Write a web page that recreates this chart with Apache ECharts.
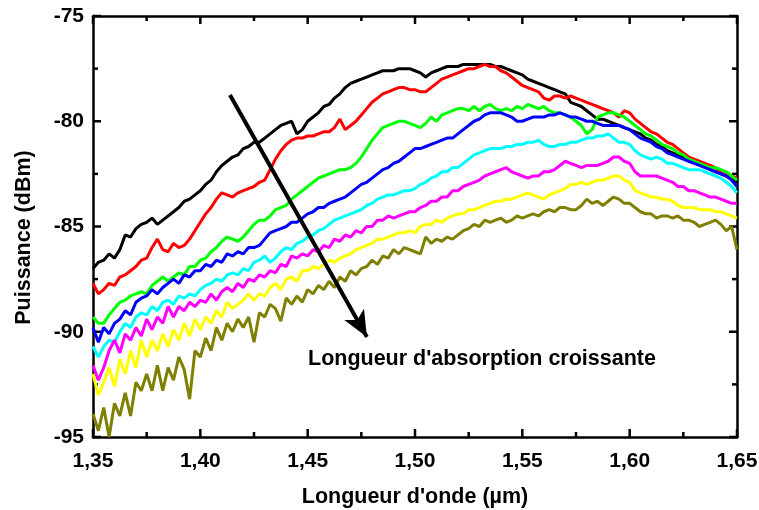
<!DOCTYPE html>
<html>
<head>
<meta charset="utf-8">
<script src="https://cdn.jsdelivr.net/npm/echarts@6/dist/echarts.min.js"></script>
<style>
html,body{margin:0;padding:0;background:#fff;}
#c{width:759px;height:510px;}
</style>
</head>
<body>
<div id="c"></div>
<script>
// Wavelength grid (µm): 1.35 to 1.65, step 0.0025 (121 samples)
const wavelength = [];
for (let i = 0; i <= 120; i++) wavelength.push(+(1.35 + i * 0.0025).toFixed(4));

const X_MIN = 1.35, X_MAX = 1.65, Y_MIN = -95, Y_MAX = -75;
const xTicks = ['1,35','1,40','1,45','1,50','1,55','1,60','1,65'];
const yTicks = ['-95','-90','-85','-80','-75'];
const xMajor = [1.35, 1.40, 1.45, 1.50, 1.55, 1.60, 1.65];
const xMinor = [1.375, 1.425, 1.475, 1.525, 1.575, 1.625];
const yMajor = [-95, -90, -85, -80, -75];
const yMinor = [-92.5, -87.5, -82.5, -77.5];

const black = [-87.0,-86.7,-86.6,-86.3,-86.5,-86.1,-85.4,-85.5,-85.1,-84.9,
-84.8,-84.6,-84.9,-84.7,-84.5,-84.3,-84.1,-83.8,-83.7,-83.5,
-83.3,-83.0,-82.8,-82.4,-82.1,-81.9,-81.7,-81.6,-81.3,-81.2,
-81.0,-81.0,-80.8,-80.6,-80.4,-80.2,-80.1,-80.0,-80.6,-80.4,
-80.0,-79.8,-79.6,-79.3,-79.2,-78.9,-78.7,-78.4,-78.2,-78.1,
-78.0,-77.9,-77.8,-77.7,-77.6,-77.6,-77.6,-77.5,-77.5,-77.5,
-77.6,-77.7,-77.9,-77.7,-77.6,-77.5,-77.4,-77.4,-77.4,-77.3,
-77.3,-77.3,-77.3,-77.3,-77.3,-77.4,-77.4,-77.5,-77.6,-77.7,
-77.8,-78.0,-78.1,-78.2,-78.3,-78.4,-78.5,-78.6,-78.7,-79.1,
-79.2,-79.3,-79.5,-79.7,-79.9,-79.9,-80.0,-80.1,-80.2,-80.3,
-80.4,-80.5,-80.6,-80.8,-80.9,-81.1,-81.2,-81.4,-81.5,-81.6,
-81.7,-81.8,-81.9,-82.0,-82.1,-82.3,-82.4,-82.5,-82.6,-82.7,-82.9];

const red = [-87.7,-88.2,-88.0,-87.7,-87.8,-87.4,-87.3,-87.1,-86.9,-86.6,
-86.5,-86.0,-85.6,-86.1,-86.2,-85.8,-86.0,-85.9,-85.6,-85.2,
-84.8,-84.4,-84.1,-83.7,-83.4,-83.5,-83.6,-83.4,-83.3,-83.2,
-83.1,-82.9,-82.8,-82.3,-81.8,-81.4,-81.1,-80.9,-80.8,-80.8,
-80.7,-80.7,-80.6,-80.5,-80.5,-80.3,-79.9,-80.4,-80.2,-80.0,
-79.7,-79.4,-79.1,-78.9,-78.7,-78.6,-78.5,-78.4,-78.4,-78.5,
-78.5,-78.6,-78.6,-78.4,-78.2,-78.0,-77.9,-77.8,-77.7,-77.6,
-77.5,-77.5,-77.4,-77.3,-77.4,-77.4,-77.6,-77.7,-77.9,-78.1,
-78.3,-78.4,-78.5,-78.6,-78.9,-79.0,-78.8,-78.8,-78.9,-78.8,
-78.9,-79.0,-79.1,-79.2,-79.3,-79.4,-79.5,-79.6,-79.8,-79.5,
-79.6,-79.9,-80.1,-80.3,-80.5,-80.6,-80.8,-81.0,-81.1,-81.3,
-81.5,-81.7,-81.8,-81.9,-82.0,-82.1,-82.2,-82.4,-82.5,-82.6,-82.7];

const green = [-89.3,-89.6,-89.6,-89.2,-88.9,-88.6,-88.5,-88.3,-88.2,-88.1,
-88.2,-87.8,-87.6,-87.4,-87.6,-87.4,-87.2,-87.3,-86.9,-86.9,
-86.6,-86.5,-86.2,-86.0,-85.7,-85.5,-85.6,-85.7,-85.5,-85.2,
-84.9,-84.7,-84.7,-84.5,-84.2,-84.1,-84.0,-83.7,-83.5,-83.3,
-83.1,-82.9,-82.7,-82.6,-82.5,-82.4,-82.3,-82.3,-82.2,-82.0,
-81.7,-81.3,-80.9,-80.6,-80.3,-80.2,-80.1,-80.0,-80.0,-80.1,
-80.2,-80.3,-80.1,-79.8,-80.0,-79.7,-79.6,-79.5,-79.4,-79.4,
-79.5,-79.3,-79.5,-79.3,-79.2,-79.4,-79.5,-79.4,-79.5,-79.3,
-79.4,-79.2,-79.3,-79.4,-79.3,-79.5,-79.6,-79.6,-79.7,-79.8,
-80.0,-80.2,-80.6,-80.4,-79.8,-79.7,-79.6,-79.6,-79.7,-79.8,
-80.0,-80.2,-80.4,-80.6,-80.7,-80.9,-81.1,-81.2,-81.3,-81.5,
-81.6,-81.8,-81.9,-82.0,-82.1,-82.2,-82.2,-82.3,-82.4,-82.6,-82.8];

const blue = [-89.8,-90.5,-89.8,-90.1,-89.6,-89.4,-89.0,-89.2,-88.6,-88.4,
-88.3,-88.0,-88.2,-87.9,-87.7,-87.5,-87.7,-87.3,-87.4,-87.1,
-87.1,-86.8,-86.9,-86.6,-86.7,-86.3,-86.4,-86.2,-86.3,-86.0,
-86.0,-85.9,-85.6,-85.3,-85.2,-85.1,-85.0,-84.8,-84.8,-84.6,
-84.4,-84.3,-84.1,-84.1,-83.9,-83.8,-83.7,-83.6,-83.4,-83.2,
-83.0,-82.9,-82.7,-82.5,-82.3,-82.2,-82.0,-81.9,-81.7,-81.5,
-81.3,-81.3,-81.2,-81.1,-81.0,-80.9,-80.8,-80.8,-80.6,-80.4,
-80.2,-80.0,-79.9,-79.7,-79.6,-79.6,-79.6,-79.7,-79.8,-80.0,
-80.0,-79.9,-79.8,-79.8,-79.8,-79.7,-79.7,-79.6,-79.7,-79.8,
-79.8,-79.9,-80.0,-80.0,-80.1,-80.2,-80.2,-80.2,-80.2,-80.3,
-80.4,-80.6,-80.8,-80.9,-81.0,-81.2,-81.3,-81.5,-81.6,-81.7,
-81.8,-81.9,-82.0,-82.1,-82.2,-82.3,-82.4,-82.5,-82.6,-82.8,-83.1];

const cyan = [-90.7,-91.2,-90.7,-90.4,-90.5,-90.0,-89.6,-89.8,-89.3,-89.1,
-89.2,-88.8,-89.0,-88.6,-88.5,-88.7,-88.3,-88.4,-88.2,-88.3,
-88.0,-87.8,-87.7,-87.5,-87.6,-87.3,-87.2,-87.3,-87.0,-87.1,
-86.7,-86.6,-86.4,-86.7,-86.5,-86.2,-86.0,-86.1,-85.8,-85.7,
-85.5,-85.4,-85.2,-85.1,-84.9,-84.7,-84.6,-84.5,-84.4,-84.3,
-84.2,-84.0,-83.9,-83.7,-83.6,-83.5,-83.5,-83.4,-83.3,-83.3,
-83.2,-83.0,-82.9,-82.7,-82.6,-82.4,-82.4,-82.2,-82.2,-82.0,
-81.8,-81.6,-81.5,-81.4,-81.3,-81.3,-81.3,-81.2,-81.2,-81.1,
-81.1,-81.0,-81.0,-80.9,-81.1,-81.2,-81.2,-81.1,-81.1,-81.0,
-81.0,-80.9,-80.8,-80.8,-80.7,-80.7,-80.6,-80.8,-81.0,-81.0,
-81.1,-81.4,-81.6,-81.7,-81.8,-81.7,-81.8,-82.0,-82.0,-82.1,
-82.2,-82.3,-82.3,-82.3,-82.4,-82.5,-82.6,-82.7,-82.9,-83.1,-83.4];

const magenta = [-91.6,-92.3,-91.7,-90.9,-90.4,-91.0,-90.1,-90.4,-89.8,-90.2,
-89.4,-89.9,-89.3,-89.6,-88.8,-89.3,-88.8,-89.0,-88.6,-88.8,
-88.5,-88.6,-88.2,-88.5,-88.1,-87.9,-88.1,-87.7,-87.9,-87.5,
-87.6,-87.3,-87.4,-87.1,-87.2,-86.8,-86.9,-86.4,-86.5,-86.3,
-86.4,-86.1,-86.2,-85.9,-86.0,-85.6,-85.7,-85.4,-85.5,-85.2,
-85.3,-85.0,-85.0,-84.7,-84.7,-84.5,-84.6,-84.5,-84.4,-84.3,
-84.3,-84.1,-84.0,-83.8,-83.8,-83.6,-83.6,-83.3,-83.3,-83.1,
-83.0,-82.9,-82.8,-82.6,-82.5,-82.4,-82.3,-82.2,-82.4,-82.5,
-82.6,-82.7,-82.6,-82.6,-82.4,-82.4,-82.3,-82.1,-81.9,-82.0,
-82.1,-82.2,-82.1,-82.1,-82.1,-82.0,-81.9,-81.7,-81.7,-81.9,
-82.0,-82.4,-82.6,-82.6,-82.6,-82.6,-82.7,-82.8,-82.9,-83.1,
-83.1,-83.3,-83.3,-83.4,-83.5,-83.6,-83.6,-83.7,-83.8,-83.9,-83.9];

const yellow = [-92.0,-93.0,-92.4,-91.7,-92.6,-91.3,-92.0,-90.9,-91.7,-90.4,
-91.2,-90.4,-90.9,-90.1,-90.7,-89.9,-90.4,-89.6,-90.2,-89.4,
-89.9,-89.3,-89.6,-89.0,-89.3,-88.6,-88.9,-88.7,-88.5,-88.2,
-88.5,-88.2,-88.3,-87.9,-87.7,-88.0,-87.5,-87.4,-87.6,-87.1,
-87.1,-86.9,-87.0,-86.8,-86.6,-86.7,-86.5,-86.4,-86.3,-86.1,
-86.0,-85.9,-85.8,-85.6,-85.6,-85.5,-85.4,-85.3,-85.3,-85.2,
-85.3,-85.0,-84.9,-84.9,-84.7,-84.8,-84.6,-84.5,-84.4,-84.4,
-84.2,-84.2,-84.1,-84.0,-83.9,-83.8,-83.8,-83.7,-83.7,-83.6,
-83.5,-83.4,-83.5,-83.6,-83.7,-83.5,-83.4,-83.3,-83.2,-83.0,
-83.0,-82.9,-83.0,-82.9,-82.8,-82.8,-82.7,-82.6,-82.6,-82.8,
-82.9,-83.3,-83.4,-83.5,-83.6,-83.6,-83.7,-83.7,-83.8,-84.0,
-84.1,-84.1,-84.1,-84.2,-84.2,-84.2,-84.3,-84.3,-84.4,-84.5,-84.6];

const olive = [-93.9,-94.7,-93.6,-95.0,-93.4,-94.0,-92.9,-94.0,-92.4,-92.8,
-92.0,-92.8,-91.6,-92.8,-91.7,-92.3,-91.2,-91.8,-93.2,-90.9,
-91.2,-90.3,-90.9,-89.8,-90.4,-89.6,-90.0,-89.4,-89.8,-89.3,
-90.5,-89.1,-89.3,-88.7,-88.9,-89.5,-88.4,-88.7,-88.3,-88.6,
-88.0,-88.2,-87.8,-88.0,-87.6,-87.9,-87.4,-87.6,-87.1,-87.3,
-87.0,-86.9,-86.6,-86.8,-86.4,-86.5,-86.1,-86.3,-86.0,-86.1,
-86.2,-86.3,-85.5,-85.8,-85.6,-85.7,-85.5,-85.6,-85.4,-85.2,
-85.1,-84.9,-85.0,-84.7,-84.8,-84.7,-84.6,-84.8,-84.7,-84.5,
-84.6,-84.5,-84.4,-84.5,-84.3,-84.2,-84.3,-84.1,-84.1,-84.2,
-84.2,-84.0,-83.7,-83.9,-83.8,-84.0,-83.8,-83.6,-83.7,-83.9,
-83.9,-84.1,-84.3,-84.4,-84.4,-84.6,-84.5,-84.5,-84.6,-84.5,
-84.7,-84.7,-84.8,-85.0,-84.9,-84.8,-84.7,-84.9,-85.2,-85.0,-86.1];

const seriesList = [
  {name:'s1', color:'#000000', data:black},
  {name:'s2', color:'#ff0000', data:red},
  {name:'s3', color:'#00ff00', data:green},
  {name:'s4', color:'#0000ff', data:blue},
  {name:'s5', color:'#00ffff', data:cyan},
  {name:'s6', color:'#ff00ff', data:magenta},
  {name:'s7', color:'#ffff00', data:yellow},
  {name:'s8', color:'#808000', data:olive}
];

const arrowFrom = [1.4138, -78.75];
const arrowTo = [1.4776, -90.25];
const annotation = "Longueur d'absorption croissante";

const FONT = '"Liberation Sans", Arial, sans-serif';
const MAJOR_LEN = 8, MINOR_LEN = 5;
const chart = echarts.init(document.getElementById('c'), null, {renderer:'canvas'});

function mkAxisLine(){ return {show:true, onZero:false, lineStyle:{color:'#000', width:2.5}}; }

const series = seriesList.map(s => ({
  name: s.name,
  type: 'line',
  data: wavelength.map((x, i) => [x, s.data[i]]),
  showSymbol: false,
  symbol: 'none',
  smooth: false,
  lineStyle: {color: s.color, width: 3},
  itemStyle: {color: s.color},
  z: 3,
  animation: false
}));

series[0].markLine = {
  silent: true,
  symbol: ['none', 'arrow'],
  symbolSize: [17, 26],
  label: {show:false},
  lineStyle: {color:'#000', width:4, type:'solid'},
  data: [[{coord: arrowFrom}, {coord: arrowTo}]],
  animation: false
};

// Inward tick marks on all four sides, positioned through the axes' scales.
const tickData = [];
xMajor.forEach(v => tickData.push([v, Y_MIN, 0, MAJOR_LEN]));
xMinor.forEach(v => tickData.push([v, Y_MIN, 0, MINOR_LEN]));
yMajor.forEach(v => tickData.push([X_MIN, v, 1, MAJOR_LEN]));
yMinor.forEach(v => tickData.push([X_MIN, v, 1, MINOR_LEN]));

series.push({
  type: 'custom',
  name: 'ticks',
  silent: true,
  clip: false,
  z: 2,
  animation: false,
  data: tickData,
  renderItem: function (params, api) {
    const kind = api.value(2), len = api.value(3);
    const st = {stroke: '#000', lineWidth: 2.5};
    if (kind === 0) {
      const v = api.value(0);
      const b = api.coord([v, Y_MIN]), t = api.coord([v, Y_MAX]);
      return {type: 'group', children: [
        {type: 'line', shape: {x1: b[0], y1: b[1], x2: b[0], y2: b[1] - len}, style: st},
        {type: 'line', shape: {x1: t[0], y1: t[1], x2: t[0], y2: t[1] + len}, style: st}
      ]};
    } else {
      const v = api.value(1);
      const l = api.coord([X_MIN, v]), r = api.coord([X_MAX, v]);
      return {type: 'group', children: [
        {type: 'line', shape: {x1: l[0], y1: l[1], x2: l[0] + len, y2: l[1]}, style: st},
        {type: 'line', shape: {x1: r[0], y1: r[1], x2: r[0] - len, y2: r[1]}, style: st}
      ]};
    }
  }
});

chart.setOption({
  backgroundColor: '#fff',
  animation: false,
  grid: {left: 93, top: 16, right: 22, bottom: 73, containLabel: false, outerBoundsMode: 'none'},
  xAxis: [{
    type: 'value', min: X_MIN, max: X_MAX, interval: 0.05, position: 'bottom',
    name: "Longueur d'onde (µm)", nameLocation: 'middle', nameGap: 49,
    nameTextStyle: {fontFamily: FONT, fontWeight: 'bold', fontSize: 21.5, color: '#000'},
    axisLine: mkAxisLine(),
    axisTick: {show:false},
    splitLine: {show:false},
    axisLabel: {fontFamily: FONT, fontWeight:'bold', fontSize:21, color:'#000', margin:14,
      alignMinLabel: 'center', alignMaxLabel: 'center',
      formatter: (v) => xTicks[Math.round((v - X_MIN) / 0.05)] || ''}
  }, {
    type: 'value', min: X_MIN, max: X_MAX, interval: 0.05, position: 'top',
    axisLine: mkAxisLine(),
    axisTick: {show:false},
    splitLine: {show:false}, axisLabel: {show:false}
  }],
  yAxis: [{
    type: 'value', min: Y_MIN, max: Y_MAX, interval: 5, position: 'left',
    name: 'Puissance (dBm)', nameLocation: 'middle', nameGap: 58, nameRotate: 90,
    nameTextStyle: {fontFamily: FONT, fontWeight: 'bold', fontSize: 21.5, color: '#000', padding:[0,22,0,0]},
    axisLine: mkAxisLine(),
    axisTick: {show:false},
    splitLine: {show:false},
    axisLabel: {fontFamily: FONT, fontWeight:'bold', fontSize:21, color:'#000', margin:9,
      verticalAlignMinLabel: 'middle', verticalAlignMaxLabel: 'middle',
      formatter: (v) => yTicks[Math.round((v - Y_MIN) / 5)] || ''}
  }, {
    type: 'value', min: Y_MIN, max: Y_MAX, interval: 5, position: 'right',
    axisLine: mkAxisLine(),
    axisTick: {show:false},
    splitLine: {show:false}, axisLabel: {show:false}
  }],
  series: series,
  graphic: [{
    type: 'text', left: 308, top: 348, silent: true,
    style: {text: annotation, fill:'#000', font: 'bold 21.5px ' + FONT}
  }]
});
</script>
</body>
</html>
